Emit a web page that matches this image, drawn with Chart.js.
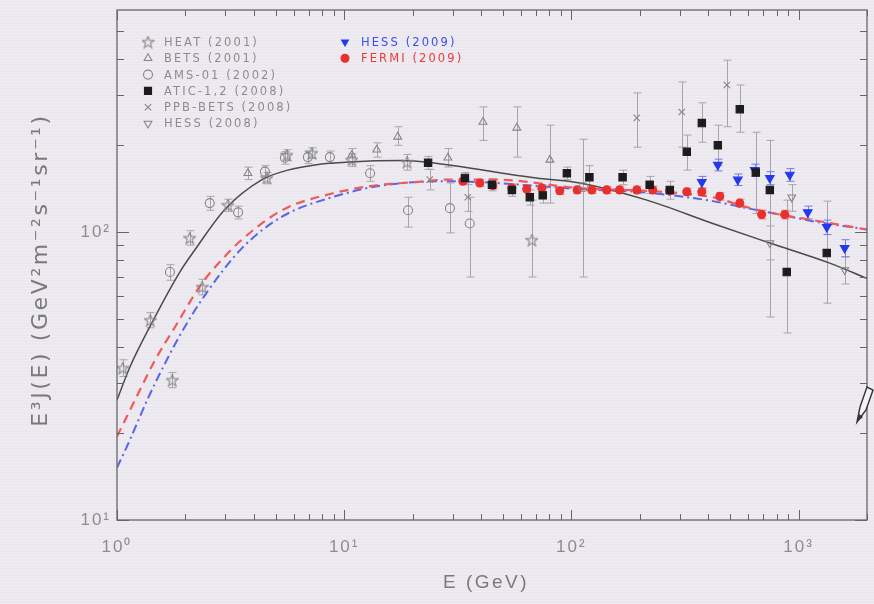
<!DOCTYPE html>
<html>
<head>
<meta charset="utf-8">
<title>E3J(E) electron spectrum</title>
<script src="https://cdn.jsdelivr.net/npm/chart.js@4.4.0/dist/chart.umd.min.js"></script>
<style>
  html, body { margin: 0; padding: 0; }
  body {
    width: 874px; height: 604px; overflow: hidden;
    background-color: #ebe7ee;
    background-image: repeating-linear-gradient(to bottom, rgba(255,255,255,0.25) 0px, rgba(255,255,255,0.25) 1px, transparent 1px, transparent 3px);
  }
</style>
</head>
<body>
<canvas id="spectrum" width="874" height="604"></canvas>
<script>
// --- measurements: energy (GeV), E^3 J(E), and error bar ends ---
const heatE  = [1.06, 1.40, 1.75, 2.09, 2.37, 3.08, 4.57, 5.60, 7.21, 10.8, 18.9, 67.0];
const heatJ  = [33.7, 49.4, 30.6, 95.3, 64.4, 124, 154, 185, 188, 178, 175, 93.8];
const heatLo = [31.5, 46.5, 28.8, 90, 60.5, 118, 147, 177, 180, 169, 164, 69.8];
const heatHi = [36, 52.5, 32.5, 101, 68.5, 130, 161, 193, 196, 187, 186, 129];

const betsE  = [3.77, 10.8, 13.9, 17.2, 28.6, 40.8, 57.5, 80.4];
const betsJ  = [160, 185, 193, 214, 181, 241, 230, 178];
const betsLo = [152, 175, 182, 200, 168, 208, 182, 126];
const betsHi = [168, 195, 204, 232, 195, 272, 272, 235];

const amsE  = [1.71, 2.56, 3.41, 4.48, 5.48, 6.92, 8.65, 13.0, 19.1, 29.2, 35.7, 113];
const amsJ  = [72.6, 126, 117, 162, 181, 182, 182, 160, 119, 121, 107, 143];
const amsLo = [68, 119, 111, 154, 172, 173, 173, 150, 104, 99.3, 69.8, 69.8];
const amsHi = [77, 133, 123, 170, 190, 191, 191, 170, 132, 148, 132, 210];

const aticE  = [23.4, 34, 44.7, 54.7, 65.6, 74.8, 95.5, 120, 168, 221, 271, 322, 375, 441, 551, 648, 747, 887, 1330];
const aticJ  = [174, 154, 146, 140, 132, 134, 160, 155, 155, 146, 140, 190, 239, 200, 267, 161, 140, 72.6, 84.5];
const aticLo = [165, 147, 139, 133, 124, 126, 152, 140, 146, 136, 130, 164, 205, 170, 222, 116, 50.7, 44.6, 56.6];
const aticHi = [183, 161, 153, 147, 140, 142, 168, 170, 164, 156, 150, 217, 281, 235, 324, 222, 208, 129, 128];

const ppbE  = [23.8, 35, 194, 306, 483];
const ppbJ  = [152, 132, 249, 261, 324];
const ppbLo = [140, 118, 197, 197, 232];
const ppbHi = [165, 146, 304, 332, 395];

const hess08E  = [747, 933, 1595];
const hess08J  = [91.6, 132, 73.8];
const hess08Lo = [80, 118, 66];
const hess08Hi = [105, 146, 82];

const hess09E  = [375, 441, 540, 641, 747, 914, 1097, 1330, 1595];
const hess09J  = [149, 171, 152, 164, 154, 158, 117, 104, 88];
const hess09Lo = [142, 163, 145, 156, 146, 150, 111, 98, 82];
const hess09Hi = [156, 179, 159, 172, 162, 166, 123, 110, 94];

const fermiE  = [33.3, 39.5, 45.1, 54.7, 63.6, 74.1, 88.9, 106, 123, 143, 163, 194, 228, 271, 322, 375, 450, 551, 688, 869];
const fermiJ  = [150, 148, 145, 142, 141, 142, 139, 140, 140, 140, 140, 140, 140, 139, 138, 138, 133, 126, 115, 115];
const fermiLo = [146, 144, 141, 138, 137, 138, 135, 136, 136, 136, 136, 136, 136, 135, 134, 134, 129, 122, 111, 111];
const fermiHi = [154, 152, 149, 146, 145, 146, 143, 144, 144, 144, 144, 144, 144, 143, 142, 142, 137, 130, 119, 119];

// --- model curves ---
const solidE = [1, 1.14, 1.43, 1.89, 2.20, 2.99, 4.35, 5.65, 7.43, 10.6, 17.6, 24.3, 46, 70, 109, 215, 419, 747, 1371, 2000];
const solidJ = [26.1, 34.0, 48.7, 72.6, 86.6, 120, 152, 164, 171, 175, 177, 174, 161.5, 154, 148, 129, 107, 91.6, 78, 69];

const redE = [1, 1.20, 1.47, 1.80, 2.37, 3.08, 3.41, 5.32, 8.83, 13.6, 20.5, 28.6, 46, 109, 215, 419, 591, 826, 1153, 2000];
const redJ = [19.5, 26.1, 35.9, 46.8, 66.5, 84.5, 91.6, 119, 136, 145, 149, 152, 152, 142, 139, 132, 122, 115, 110, 102];

const blueE = [1, 1.12, 1.37, 1.63, 1.93, 2.44, 3.55, 5.32, 8.83, 14.6, 28.6, 109, 215, 419, 591, 826, 1153, 2000];
const blueJ = [15.2, 18.4, 26.5, 35.1, 45.0, 60.4, 87.9, 113, 132, 145, 150, 141, 137, 128, 121, 115, 109, 102];

const xTickLabels = { 1: '10⁰', 10: '10¹', 100: '10²', 1000: '10³' };
const yTickLabels = { 10: '10¹', 100: '10²' };
const xTitle = 'E (GeV)';
const yTitle = 'E³J(E) (GeV²m⁻²s⁻¹sr⁻¹)';

const FONT = "'Liberation Sans', Arial, sans-serif";
const GRAY = '#8c8c8c';

function pts(e, j) { return e.map((v, i) => ({ x: v, y: j[i] })); }

// open five-pointed star used for HEAT
function starImage(size, color) {
    const c = document.createElement('canvas');
    c.width = c.height = size;
    const g = c.getContext('2d');
    g.strokeStyle = color;
    g.lineWidth = 1.1;
    g.beginPath();
    for (let k = 0; k < 10; k++) {
        const r = k % 2 ? size * 0.2 : size * 0.47;
        const a = -Math.PI / 2 + k * Math.PI / 5;
        const px = size / 2 + r * Math.cos(a), py = size / 2 + 0.5 + r * Math.sin(a);
        if (k) g.lineTo(px, py); else g.moveTo(px, py);
    }
    g.closePath();
    g.stroke();
    return c;
}
const starMark = starImage(13, '#858585');

function markers(label, e, j, lo, hi, style) {
    return Object.assign({
        label: label,
        data: pts(e, j),
        lo: lo, hi: hi,
        barColor: '#a6a6a6',
        showLine: false,
        order: 1,
        backgroundColor: 'rgba(0,0,0,0)',
        borderColor: '#858585',
        borderWidth: 1.1,
        pointRadius: 4.5,
        legendColor: GRAY
    }, style);
}

const datasets = [
    markers('HEAT (2001)', heatE, heatJ, heatLo, heatHi, { pointStyle: starMark, legendSlot: [0, 0] }),
    markers('BETS (2001)', betsE, betsJ, betsLo, betsHi, { pointStyle: 'triangle', legendSlot: [0, 1] }),
    markers('AMS-01 (2002)', amsE, amsJ, amsLo, amsHi, { pointStyle: 'circle', legendSlot: [0, 2] }),
    markers('ATIC-1,2 (2008)', aticE, aticJ, aticLo, aticHi, { pointStyle: 'rect', pointRadius: 5.2, backgroundColor: '#1c1c1e', borderColor: '#1c1c1e', legendSlot: [0, 3] }),
    markers('PPB-BETS (2008)', ppbE, ppbJ, ppbLo, ppbHi, { pointStyle: 'crossRot', legendSlot: [0, 4] }),
    markers('HESS (2008)', hess08E, hess08J, hess08Lo, hess08Hi, { pointStyle: 'triangle', rotation: 180, legendSlot: [0, 5] }),
    markers('HESS (2009)', hess09E, hess09J, hess09Lo, hess09Hi, { pointStyle: 'triangle', rotation: 180, pointRadius: 5, backgroundColor: '#2438ee', borderColor: '#2438ee', barColor: '#6f7cf0', legendColor: '#3a4cf0', legendSlot: [1, 0] }),
    markers('FERMI (2009)', fermiE, fermiJ, fermiLo, fermiHi, { pointStyle: 'circle', pointRadius: 4, backgroundColor: '#e8302c', borderColor: '#e8302c', barColor: '#ee7a78', legendColor: '#ec3a36', legendSlot: [1, 1] }),
    { type: 'line', label: 'model', data: pts(solidE, solidJ), borderColor: '#4a4a4a', borderWidth: 1.5, pointRadius: 0, cubicInterpolationMode: 'monotone', order: 5 },
    { type: 'line', label: 'model red', data: pts(redE, redJ), borderColor: '#ef5a5a', borderWidth: 2.2, borderDash: [9, 6], pointRadius: 0, cubicInterpolationMode: 'monotone', order: 4 },
    { type: 'line', label: 'model blue', data: pts(blueE, blueJ), borderColor: '#5866e6', borderWidth: 2, borderDash: [9, 4, 2, 4], pointRadius: 0, cubicInterpolationMode: 'monotone', order: 6 }
];

// vertical error bars with small caps, placed under the markers
const errorBars = {
    id: 'errorBars',
    beforeDatasetsDraw(chart) {
        const { ctx, scales: { x, y } } = chart;
        ctx.save();
        ctx.lineWidth = 1;
        chart.data.datasets.forEach(ds => {
            if (!ds.lo) return;
            ctx.strokeStyle = ds.barColor;
            ds.data.forEach((p, j) => {
                const px = Math.round(x.getPixelForValue(p.x)) + 0.5;
                const top = y.getPixelForValue(ds.hi[j]);
                const bot = y.getPixelForValue(ds.lo[j]);
                ctx.beginPath();
                ctx.moveTo(px, top); ctx.lineTo(px, bot);
                ctx.moveTo(px - 4, top); ctx.lineTo(px + 4, top);
                ctx.moveTo(px - 4, bot); ctx.lineTo(px + 4, bot);
                ctx.stroke();
            });
        });
        ctx.restore();
    }
};

// plot frame with inward ticks on all four sides, plus axis titles
const frameTicks = {
    id: 'frameTicks',
    beforeDraw(chart) {
        chart.ctx.letterSpacing = '2px';
    },
    afterDraw(chart) {
        const { ctx, chartArea: a, scales: { x, y } } = chart;
        ctx.save();
        ctx.strokeStyle = '#666';
        ctx.lineWidth = 1.3;
        ctx.strokeRect(a.left, a.top, a.right - a.left, a.bottom - a.top);
        ctx.lineWidth = 1;
        ctx.beginPath();
        for (let d = 1; d <= 1000; d *= 10) {
            for (let m = 1; m < 10; m++) {
                const v = d * m;
                if (v > x.max) break;
                const px = Math.round(x.getPixelForValue(v)) + 0.5;
                const len = m === 1 ? 10 : 6;
                ctx.moveTo(px, a.bottom); ctx.lineTo(px, a.bottom - len);
                ctx.moveTo(px, a.top); ctx.lineTo(px, a.top + len);
            }
        }
        for (let d = 10; d <= 100; d *= 10) {
            for (let m = 1; m < 10; m++) {
                const v = d * m;
                if (v > y.max) break;
                const py = Math.round(y.getPixelForValue(v)) + 0.5;
                const len = m === 1 ? 12 : 7;
                ctx.moveTo(a.left, py); ctx.lineTo(a.left + len, py);
                ctx.moveTo(a.right, py); ctx.lineTo(a.right - len, py);
            }
        }
        ctx.stroke();

        ctx.fillStyle = '#7a7a7a';
        ctx.textAlign = 'center';
        ctx.textBaseline = 'middle';
        ctx.font = "19px " + FONT;
        ctx.letterSpacing = '2.5px';
        ctx.fillText(xTitle, (a.left + a.right) / 2 - 6, 583);

        ctx.font = "22px 'DejaVu Sans', sans-serif";
        ctx.letterSpacing = '2.6px';
        ctx.translate(41, (a.top + a.bottom) / 2 + 5);
        ctx.rotate(-Math.PI / 2);
        ctx.fillText(yTitle, 0, 0);
        ctx.restore();
    }
};

// two-column key in the upper left of the plot
const keyBox = {
    id: 'keyBox',
    afterDatasetsDraw(chart) {
        const { ctx, chartArea: a } = chart;
        ctx.save();
        ctx.font = "11.5px 'DejaVu Sans', sans-serif";
        ctx.letterSpacing = '2.1px';
        ctx.textBaseline = 'middle';
        chart.data.datasets.forEach(ds => {
            if (!ds.legendSlot) return;
            const [col, row] = ds.legendSlot;
            const mx = a.left + (col ? 228 : 31);
            const my = a.top + 32 + row * 16.3;
            ctx.fillStyle = ds.backgroundColor;
            ctx.strokeStyle = ds.borderColor;
            ctx.lineWidth = ds.borderWidth;
            Chart.helpers.drawPoint(ctx, {
                pointStyle: ds.pointStyle,
                radius: col ? 4 : (ds.pointRadius > 5 ? 5 : 4.5),
                rotation: ds.rotation || 0,
                borderWidth: ds.borderWidth
            }, mx, my);
            ctx.fillStyle = ds.legendColor;
            ctx.fillText(ds.label, mx + 16, my + 1);
        });
        ctx.restore();
    }
};

// small outlined pointer resting on the right frame
const pointer = {
    id: 'pointer',
    afterDraw(chart) {
        const { ctx, chartArea: a } = chart;
        const px = a.right - 10, py = a.top + 412;
        ctx.save();
        ctx.fillStyle = '#f4f2f6';
        ctx.strokeStyle = '#333';
        ctx.lineWidth = 1.4;
        ctx.beginPath();
        ctx.moveTo(px, py);
        ctx.lineTo(px + 3, py - 15);
        ctx.lineTo(px + 10, py - 35);
        ctx.lineTo(px + 16, py - 32);
        ctx.lineTo(px + 9, py - 12);
        ctx.closePath();
        ctx.fill();
        ctx.stroke();
        ctx.fillStyle = '#333';
        ctx.beginPath();
        ctx.moveTo(px, py);
        ctx.lineTo(px + 2, py - 8);
        ctx.lineTo(px + 6, py - 5);
        ctx.closePath();
        ctx.fill();
        ctx.restore();
    }
};

new Chart(document.getElementById('spectrum'), {
    type: 'scatter',
    data: { datasets: datasets },
    options: {
        responsive: false,
        animation: false,
        devicePixelRatio: 1,
        layout: { padding: { top: 10, right: 7, left: 0, bottom: 0 } },
        plugins: { legend: { display: false }, tooltip: { enabled: false } },
        scales: {
            x: {
                type: 'logarithmic',
                min: 1,
                max: 2000,
                afterFit: s => { s.height = 84; s.paddingLeft = 0; s.paddingRight = 0; },
                grid: { display: false, drawTicks: false },
                border: { display: false },
                ticks: {
                    autoSkip: false,
                    maxRotation: 0,
                    padding: 17,
                    color: GRAY,
                    font: { family: FONT, size: 17 },
                    callback: v => xTickLabels[v] || ''
                }
            },
            y: {
                type: 'logarithmic',
                min: 10,
                max: 590,
                afterFit: s => { s.width = 117; s.paddingTop = 0; s.paddingBottom = 0; },
                grid: { display: false, drawTicks: false },
                border: { display: false },
                ticks: {
                    autoSkip: false,
                    padding: 6,
                    color: GRAY,
                    font: { family: FONT, size: 17 },
                    callback: v => yTickLabels[v] || ''
                }
            }
        }
    },
    plugins: [errorBars, frameTicks, keyBox, pointer]
});
</script>
</body>
</html>
